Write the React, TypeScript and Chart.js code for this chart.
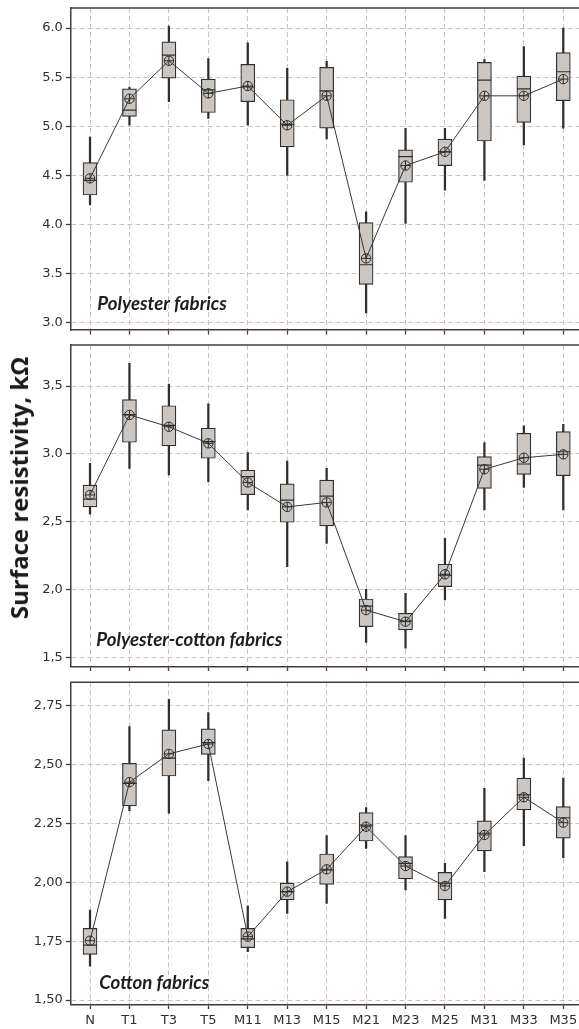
import { useEffect, useRef } from "react";
import { Chart, registerables } from "chart.js";

Chart.register(...registerables);

const categories = ["N", "T1", "T3", "T5", "M11", "M13", "M15", "M21", "M23", "M25", "M31", "M33", "M35"];

// Polyester fabrics
const polyMin = [4.2, 5.01, 5.25, 5.08, 5.01, 4.5, 4.87, 3.1, 4.01, 4.35, 4.45, 4.81, 4.98];
const polyQ1 = [4.3, 5.1, 5.49, 5.14, 5.25, 4.79, 4.98, 3.39, 4.43, 4.6, 4.85, 5.04, 5.26];
const polyMedian = [4.45, 5.165, 5.725, 5.37, 5.4, 5.02, 5.36, 3.59, 4.69, 4.74, 5.47, 5.38, 5.555];
const polyQ3 = [4.63, 5.38, 5.86, 5.48, 5.63, 5.27, 5.6, 4.02, 4.76, 4.87, 5.65, 5.51, 5.75];
const polyMax = [4.89, 5.4, 6.02, 5.69, 5.85, 5.59, 5.66, 4.13, 4.98, 4.98, 5.68, 5.81, 6.0];
const polyMean = [4.47, 5.28, 5.667, 5.335, 5.41, 5.01, 5.31, 3.655, 4.6, 4.74, 5.31, 5.31, 5.48];
const polyTickValues = [3.0, 3.5, 4.0, 4.5, 5.0, 5.5, 6.0];
const polyTickLabels = ["3.0", "3.5", "4.0", "4.5", "5.0", "5.5", "6.0"];

// Polyester-cotton fabrics
const pcMin = [2.556, 2.894, 2.845, 2.796, 2.587, 2.17, 2.342, 1.613, 1.57, 1.925, 2.587, 2.754, 2.587];
const pcQ1 = [2.61, 3.086, 3.06, 2.968, 2.7, 2.497, 2.47, 1.728, 1.704, 2.023, 2.747, 2.85, 2.84];
const pcMedian = [2.668, 3.29, 3.21, 3.09, 2.833, 2.66, 2.69, 1.88, 1.77, 2.108, 2.918, 2.926, 3.016];
const pcQ3 = [2.77, 3.4, 3.355, 3.19, 2.88, 2.779, 2.808, 1.932, 1.827, 2.188, 2.98, 3.152, 3.164];
const pcMax = [2.93, 3.667, 3.515, 3.368, 3.01, 2.948, 2.894, 2.003, 1.974, 2.379, 3.083, 3.206, 3.218];
const pcMean = [2.698, 3.287, 3.2, 3.078, 2.79, 2.61, 2.643, 1.85, 1.765, 2.114, 2.887, 2.972, 2.997];
const pcTickValues = [1.5, 2.0, 2.5, 3.0, 3.5];
const pcTickLabels = ["1,5", "2,0", "2,5", "3.0", "3,5"];

// Cotton fabrics
const cotMin = [1.644, 2.304, 2.293, 2.431, 1.705, 1.868, 1.91, 2.144, 1.967, 1.847, 2.045, 2.155, 2.104];
const cotQ1 = [1.694, 2.324, 2.451, 2.543, 1.722, 1.925, 1.991, 2.175, 2.014, 1.925, 2.133, 2.307, 2.187];
const cotMedian = [1.733, 2.42, 2.527, 2.593, 1.76, 1.96, 2.052, 2.243, 2.08, 1.996, 2.208, 2.371, 2.274];
const cotQ3 = [1.804, 2.505, 2.647, 2.651, 1.804, 1.996, 2.12, 2.296, 2.109, 2.042, 2.261, 2.442, 2.321];
const cotMax = [1.882, 2.661, 2.777, 2.72, 1.9, 2.087, 2.198, 2.317, 2.198, 2.08, 2.399, 2.527, 2.442];
const cotMean = [1.752, 2.425, 2.545, 2.587, 1.769, 1.96, 2.055, 2.236, 2.069, 1.984, 2.201, 2.361, 2.253];
const cotTickValues = [1.5, 1.75, 2.0, 2.25, 2.5, 2.75];
const cotTickLabels = ["1,50", "1,75", "2,00", "2.25", "2,50", "2,75"];

const yTitle = "Surface resistivity, k\u03A9";

const frameColor = "#443b38";
const gridColor = "#cdc2ba";
const boxFill = "#cbc6c1";
const ink = "#2f2f2f";
const tickFont = { family: "DejaVu Sans", size: 13 };

type Panel = {
  name: string;
  min: number[];
  q1: number[];
  median: number[];
  q3: number[];
  max: number[];
  mean: number[];
  tickValues: number[];
  tickLabels: string[];
  yMin: number;
  yMax: number;
  top: number;
  height: number;
  padTop: number;
  xAxisH: number;
  showX: boolean;
  labelDx: number;
  labelDy: number;
};

const panels: Panel[] = [
  {
    name: "Polyester fabrics", min: polyMin, q1: polyQ1, median: polyMedian, q3: polyQ3, max: polyMax, mean: polyMean,
    tickValues: polyTickValues, tickLabels: polyTickLabels, yMin: 2.926, yMax: 6.204,
    top: 0, height: 340, padTop: 8, xAxisH: 10, showX: false, labelDx: 27, labelDy: 20,
  },
  {
    name: "Polyester-cotton fabrics", min: pcMin, q1: pcQ1, median: pcMedian, q3: pcQ3, max: pcMax, mean: pcMean,
    tickValues: pcTickValues, tickLabels: pcTickLabels, yMin: 1.435, yMax: 3.802,
    top: 337, height: 340, padTop: 8, xAxisH: 10.5, showX: false, labelDx: 26, labelDy: 21,
  },
  {
    name: "Cotton fabrics", min: cotMin, q1: cotQ1, median: cotMedian, q3: cotQ3, max: cotMax, mean: cotMean,
    tickValues: cotTickValues, tickLabels: cotTickLabels, yMin: 1.481, yMax: 2.849,
    top: 674, height: 355, padTop: 8.3, xAxisH: 24.5, showX: true, labelDx: 29, labelDy: 15.5,
  },
];

function buildConfig(p: Panel): any {
  const whiskers = p.min.map((v, i) => [v, p.max[i]]);
  const boxes = p.q1.map((v, i) => [v, p.q3[i]]);
  const framePlugin = {
    id: "frameAndLabel",
    afterDraw(chart: any) {
      const { ctx, chartArea } = chart;
      ctx.save();
      ctx.strokeStyle = frameColor;
      ctx.lineWidth = 1.5;
      ctx.beginPath();
      ctx.moveTo(chartArea.left, chartArea.top);
      ctx.lineTo(chartArea.right, chartArea.top);
      ctx.lineTo(chartArea.right, chartArea.bottom);
      ctx.stroke();
      ctx.fillStyle = "#1e1e1e";
      ctx.font = "italic bold 18.7px Lato";
      ctx.textBaseline = "alphabetic";
      ctx.textAlign = "left";
      ctx.fillText(p.name, chartArea.left + p.labelDx, chartArea.bottom - p.labelDy);
      ctx.restore();
    },
  };
  const grid = {
    color: gridColor,
    lineWidth: 1,
    tickColor: frameColor,
    tickLength: 4.5,
    tickWidth: 1.3,
    drawTicks: true,
  };
  const border = { display: true, color: frameColor, width: 1.5, dash: [5, 3] };
  return {
    type: "bar",
    data: {
      labels: categories,
      datasets: [
        { type: "bar", data: whiskers, backgroundColor: ink, borderWidth: 0, barThickness: 1.6, grouped: false, order: 5 },
        {
          type: "bar", data: boxes, backgroundColor: boxFill, borderColor: ink, borderWidth: 1.2,
          borderSkipped: false, barThickness: 14, grouped: false, order: 4,
        },
        {
          type: "line", data: p.median, showLine: false, pointStyle: "line", pointRadius: 7,
          pointBorderWidth: 1.2, pointBorderColor: ink, pointBackgroundColor: ink, order: 3,
        },
        {
          type: "line", data: p.mean, borderColor: "#383838", borderWidth: 1, pointStyle: "circle",
          pointRadius: 4.7, pointBorderWidth: 1, pointBorderColor: ink, pointBackgroundColor: "rgba(0,0,0,0)",
          fill: false, tension: 0, order: 2,
        },
        {
          type: "line", data: p.mean, showLine: false, pointStyle: "cross", pointRadius: 4.7,
          pointBorderWidth: 1, pointBorderColor: ink, order: 1,
        },
      ],
    },
    options: {
      responsive: false,
      maintainAspectRatio: false,
      animation: false,
      events: [],
      layout: { autoPadding: false, padding: { top: p.padTop, left: 0, right: 0, bottom: 0 } },
      plugins: { legend: { display: false }, tooltip: { enabled: false }, title: { display: false } },
      scales: {
        x: {
          type: "category",
          offset: true,
          grid: { ...grid, offset: false },
          border,
          ticks: { display: p.showX, color: ink, font: tickFont, padding: 3.5, maxRotation: 0, autoSkip: false },
          afterFit: (s: any) => {
            s.height = p.xAxisH;
            s.paddingLeft = 0;
            s.paddingRight = 0;
          },
        },
        y: {
          type: "linear",
          min: p.yMin,
          max: p.yMax,
          grid,
          border,
          afterBuildTicks: (s: any) => { s.ticks = p.tickValues.map((v) => ({ value: v })); },
          ticks: {
            color: ink,
            font: tickFont,
            padding: 3,
            callback: (v: any) => {
              const idx = p.tickValues.findIndex((t) => Math.abs(t - Number(v)) < 1e-6);
              return idx >= 0 ? p.tickLabels[idx] : "";
            },
          },
          afterFit: (s: any) => {
            s.width = 70.3;
            s.paddingTop = 0;
            s.paddingBottom = 0;
          },
        },
      },
    },
    plugins: [framePlugin],
  };
}

function PanelChart({ p }: { p: Panel }) {
  const ref = useRef<HTMLCanvasElement | null>(null);
  useEffect(() => {
    if (!ref.current) return;
    const chart = new Chart(ref.current, buildConfig(p));
    return () => chart.destroy();
  }, [p]);
  return (
    <canvas
      ref={ref}
      width={583}
      height={p.height}
      style={{ position: "absolute", left: 0, top: p.top, width: 583, height: p.height }}
    />
  );
}

export default function App() {
  return (
    <div style={{ position: "absolute", left: 0, top: 0, width: 579, height: 1029, overflow: "hidden", background: "#ffffff" }}>
      {panels.map((p) => (
        <PanelChart key={p.name} p={p} />
      ))}
      <div
        style={{
          position: "absolute",
          left: 19,
          top: 488,
          transform: "translate(-50%, -50%) rotate(-90deg)",
          whiteSpace: "nowrap",
          fontFamily: "'Open Sans', sans-serif",
          fontWeight: 700,
          fontSize: 24,
          color: "#1a1a1a",
          lineHeight: 1,
        }}
      >
        {yTitle}
      </div>
    </div>
  );
}
